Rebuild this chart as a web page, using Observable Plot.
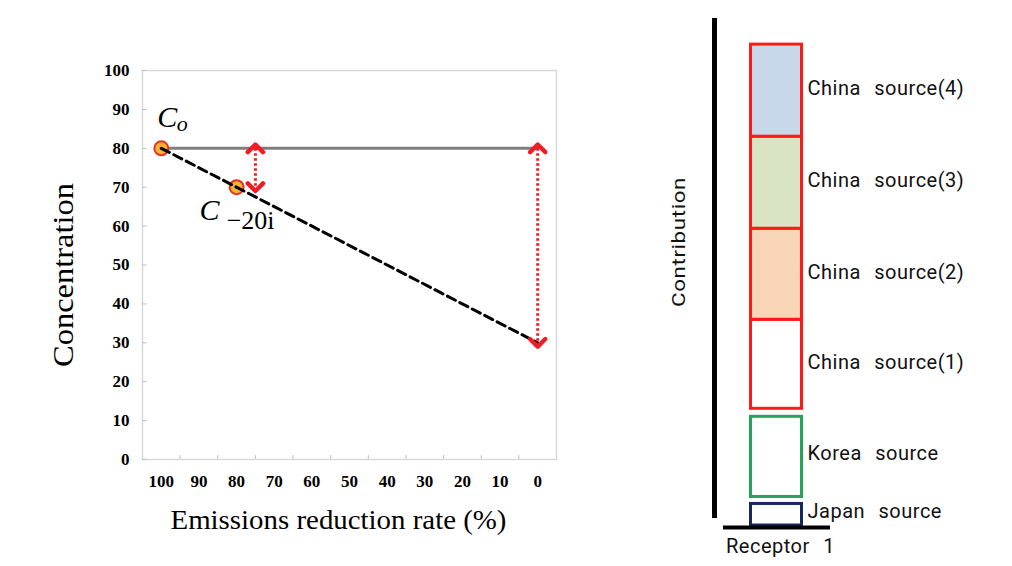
<!DOCTYPE html>
<html>
<head>
<meta charset="utf-8">
<script src="https://cdn.jsdelivr.net/npm/d3@7"></script>
<script src="https://cdn.jsdelivr.net/npm/@observablehq/plot@0.6"></script>
<style>
  html, body { margin: 0; padding: 0; background: #ffffff; }
  #wrap { position: relative; width: 1012px; height: 566px; background: #ffffff; overflow: hidden; }
  #left { position: absolute; left: 0; top: 0; }
  #right { position: absolute; left: 650px; top: 0; }
  #right svg text { word-spacing: 8px; letter-spacing: 0.5px; }
</style>
</head>
<body>
<div id="wrap"><div id="left"></div><div id="right"></div></div>
<script>
// ---------- Left chart data ----------
const rates = [100, 90, 80, 70, 60, 50, 40, 30, 20, 10, 0];          // x tick labels (%)
const rateBoundaries = [95, 85, 75, 65, 55, 45, 35, 25, 15, 5];       // category separators
const concTicks = [0, 10, 20, 30, 40, 50, 60, 70, 80, 90, 100];       // y tick labels
const baseRates = [100, 0];
const baseConc = [80, 80];                                            // C_o kept constant
const reducedRates = [100, 0];
const reducedConc = [80, 30];                                         // linear reduction line
const pointRates = [100, 80];
const pointConc = [80, 70];
const pointNames = ["C", "C"];
const pointSubs = ["o", "\u221220i"];
const arrowRates = [75, 0];
const arrowFrom = [80, 80];
const arrowTo = [70, 30];
const xTitle = "Emissions reduction rate (%)";
const yTitle = "Concentration";

// ---------- Right chart data ----------
const receptor = "Receptor 1";
const sources = ["Japan source", "Korea source", "China source(1)", "China source(2)", "China source(3)", "China source(4)"];
const contributions = [4.6, 18.6, 17.7, 18.1, 18.3, 18.3];
const rightTitle = "Contribution";

// ---------- tables ----------
const baseLine = baseRates.map((r, i) => ({rate: r, c: baseConc[i]}));
const reducedLine = reducedRates.map((r, i) => ({rate: r, c: reducedConc[i]}));
const points = pointRates.map((r, i) => ({rate: r, c: pointConc[i], name: pointNames[i], sub: pointSubs[i]}));
const arrows = arrowRates.map((r, i) => ({rate: r, from: arrowFrom[i], to: arrowTo[i]}));

const cum = d3.cumsum(contributions);
const segs = sources.map((s, i) => ({receptor, source: s, y1: cum[i] - contributions[i], y2: cum[i]}));
const japan = segs.filter(d => d.source.startsWith("Japan"));
const korea = segs.filter(d => d.source.startsWith("Korea"));
const china = segs.filter(d => d.source.startsWith("China"));

const serif = "'Liberation Serif', 'Times New Roman', serif";
const red = "#ee1c25";

const left = Plot.plot({
  width: 650, height: 566,
  marginLeft: 142, marginRight: 94, marginTop: 70, marginBottom: 107,
  x: {domain: [105, -5]},
  y: {domain: [0, 100]},
  style: {fontFamily: serif, background: "#ffffff", color: "#000"},
  marks: [
    Plot.frame({stroke: "#d9d9d9", strokeWidth: 1.5}),
    Plot.ruleX(rateBoundaries, {y1: 0, y2: 1, stroke: "#bfbfbf", strokeWidth: 1}),
    Plot.ruleY(concTicks, {x1: 105, x2: 103.8, stroke: "#bfbfbf", strokeWidth: 1}),
    Plot.axisX(rates, {tickSize: 0, tickPadding: 15, fontSize: 17, fontWeight: "bold", label: null}),
    Plot.axisY(concTicks, {tickSize: 0, tickPadding: 13, fontSize: 17, fontWeight: "bold", label: null}),
    Plot.line(baseLine, {x: "rate", y: "c", stroke: "#7f7f7f", strokeWidth: 3}),
    Plot.dot(points, {x: "rate", y: "c", r: 7, fill: "#f6b331", stroke: "#e8302a", strokeWidth: 2}),
    Plot.line(reducedLine, {x: "rate", y: "c", stroke: "#000", strokeWidth: 3, strokeDasharray: "9,5"}),
    Plot.link(arrows, {x1: "rate", x2: "rate", y1: "from", y2: "to", stroke: red, strokeWidth: 3,
      strokeDasharray: "2.5,2.5", markerStart: "arrow-reverse", markerEnd: "arrow"}),
    Plot.text(points.slice(0, 1), {x: "rate", y: "c", text: "name", dx: 6, dy: -31, fontSize: 30, fontStyle: "italic", fontFamily: serif}),
    Plot.text(points.slice(0, 1), {x: "rate", y: "c", text: "sub", dx: 21, dy: -24, fontSize: 22, fontStyle: "italic", fontFamily: serif}),
    Plot.text(points.slice(1), {x: "rate", y: "c", text: "name", dx: -27, dy: 23, fontSize: 30, fontStyle: "italic", fontFamily: serif}),
    Plot.text(points.slice(1), {x: "rate", y: "c", text: "sub", dx: 14, dy: 33, fontSize: 26, fontFamily: serif}),
    Plot.text([xTitle], {frameAnchor: "bottom", dx: -11, dy: 61, fontSize: 28, fontFamily: serif, lineAnchor: "middle"}),
    Plot.text([yTitle], {frameAnchor: "left", textAnchor: "middle", dx: -79, dy: 10, rotate: -90, fontSize: 30, fontFamily: serif, lineAnchor: "middle"})
  ]
});
document.getElementById("left").appendChild(left);
left.querySelectorAll("marker").forEach(m => { m.setAttribute("markerWidth", 8.5); m.setAttribute("markerHeight", 8.5); });
left.querySelectorAll("marker path").forEach(p => { p.setAttribute("stroke-dasharray", "none"); p.setAttribute("stroke-width", 1.7); });

const right = Plot.plot({
  width: 362, height: 566,
  marginLeft: 64, marginRight: 182, marginTop: 22, marginBottom: 41,
  x: {domain: [receptor], padding: 0},
  y: {domain: [0, 100], axis: null},
  color: {domain: sources, range: ["#ffffff", "#ffffff", "#ffffff", "#f8d5b6", "#d9e4c4", "#c9d7eb"]},
  style: {fontFamily: "Roboto, sans-serif", background: "transparent", color: "#111"},
  marks: [
    Plot.frame({anchor: "left", stroke: "#000", strokeWidth: 5, insetTop: -2, insetBottom: 10}),
    Plot.barY(china, {x: "receptor", y1: "y1", y2: "y2", fill: "source", stroke: "#ff1a1a", strokeWidth: 3, insetLeft: 36.5, insetRight: 28.5}),
    Plot.barY(korea, {x: "receptor", y1: "y1", y2: "y2", fill: "source", stroke: "#25a455", strokeWidth: 3, insetLeft: 36.5, insetRight: 28.5, insetTop: 8, insetBottom: 5.4}),
    Plot.barY(japan, {x: "receptor", y1: "y1", y2: "y2", fill: "source", stroke: "#16295c", strokeWidth: 3, insetLeft: 36.5, insetRight: 28.5, insetTop: 1.6}),
    Plot.ruleY([0], {stroke: "#000", strokeWidth: 4, insetLeft: 9, dy: 2}),
    Plot.text(segs, {x: "receptor", y: d => (d.y1 + d.y2) / 2, text: "source", textAnchor: "start", dx: 35, dy: -2, fontSize: 20, fill: "#111"}),
    Plot.axisX({tickSize: 0, tickPadding: 13, fontSize: 20, dx: 8, label: null}),
    Plot.text([rightTitle], {frameAnchor: "left", textAnchor: "middle", dx: -36, dy: -32, rotate: -90, fontSize: 19, lineAnchor: "middle", fill: "#111"})
  ]
});
document.getElementById("right").appendChild(right);

// stretch titles to the reference widths
function fit(svg, str, len) {
  svg.querySelectorAll("text").forEach(t => {
    if (t.textContent === str) { t.setAttribute("textLength", len); t.setAttribute("lengthAdjust", "spacingAndGlyphs"); }
  });
}
fit(left, yTitle, 184);
fit(left, xTitle, 336);
fit(right, rightTitle, 130);
</script>
</body>
</html>
